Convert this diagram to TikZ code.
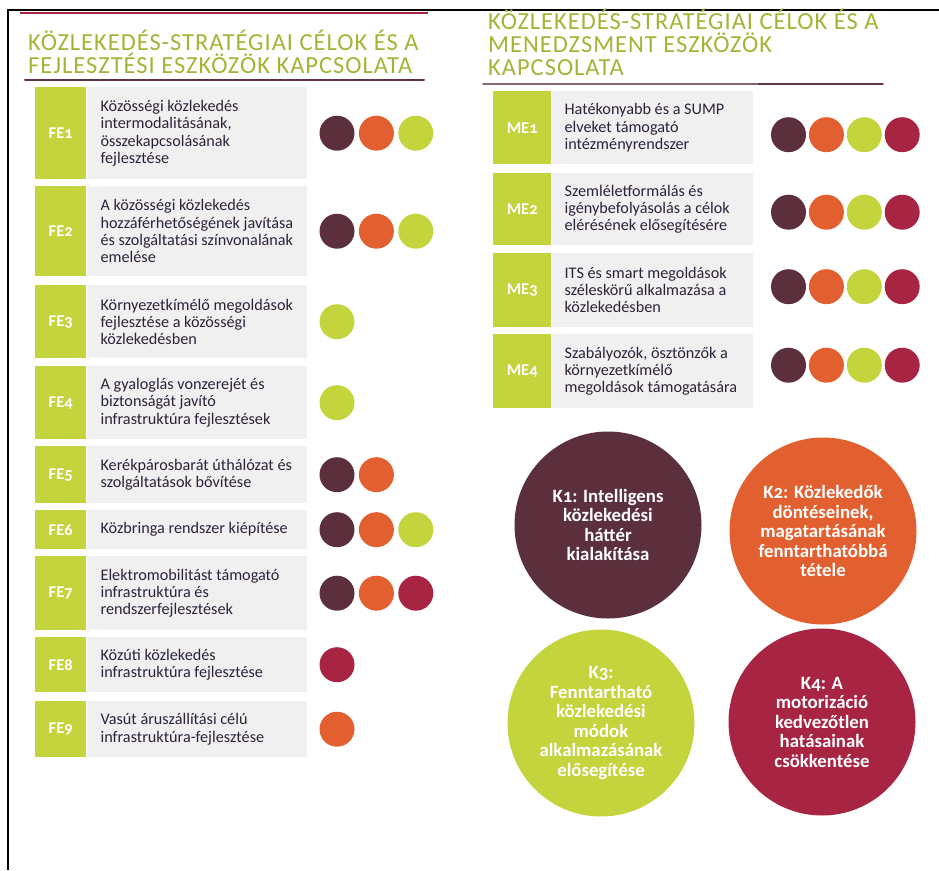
\documentclass[tikz,border=0pt]{standalone}
\usepackage{fontspec}
\setmainfont{Carlito}[Numbers=OldStyle]
\newfontfamily\headfont{Carlito}[LetterSpace=4]
\usepackage{tikz}
\usetikzlibrary{positioning}

\definecolor{kdark}{HTML}{5C2F3D}
\definecolor{korange}{HTML}{E2602F}
\definecolor{klime}{HTML}{C3D43D}
\definecolor{kred}{HTML}{A82443}
\definecolor{rowgrey}{HTML}{F0F0F0}
\definecolor{rowtext}{HTML}{2E2238}
\definecolor{headgreen}{HTML}{A5B336}
\definecolor{rulemaroon}{HTML}{5E3444}

\begin{document}
\begin{tikzpicture}[
    x=1pt, y=-1pt,
    heading/.style={
        anchor=base west,
        inner sep=0pt,
        text width=430pt,
        align=flush left,
        text=headgreen,
        font=\headfont\fontsize{24.5}{23}\selectfont
    },
    tagbox/.style={
        fill=klime,
        text=white,
        inner sep=0pt,
        anchor=north west,
        font=\fontsize{16.5}{18}\selectfont\bfseries
    },
    rowbox/.style={
        fill=rowgrey,
        text=rowtext,
        inner sep=0pt,
        align=flush left,
        font=\fontsize{16.2}{17.2}\selectfont
    },
    fetag/.style={tagbox, minimum width=51pt},
    metag/.style={tagbox, minimum width=58pt},
    fetext/.style={rowbox, text width=220pt, execute at begin node={\leftskip=14pt}},
    metext/.style={rowbox, text width=201pt, execute at begin node={\leftskip=13pt}},
    dot/.style={
        circle,
        minimum size=35pt,
        inner sep=0pt
    },
    goal/.style={
        circle,
        minimum size=187pt,
        inner sep=0pt,
        align=flush center,
        text=white,
        font=\fontsize{18.8}{19.5}\selectfont\bfseries
    }
]
\useasboundingbox (0,0) rectangle (939,870);

% Frame and rules
\draw [line width=2pt] (7.5,870) -- (7.5,9.5) -- (939,9.5);
\draw [kred, line width=2.5pt] (20,13) -- (428,13);
\draw [rulemaroon, line width=2pt, line cap=round] (25,80) -- (424,80);
\draw [rulemaroon!75!white, line width=1.8pt, line cap=round] (483,84) -- (883,84);
\draw [rulemaroon, line width=2.2pt] (758,84) -- (883,84);

% Headings
\node (fehead) [heading] at (28,50.5) {KÖZLEKEDÉS-STRATÉGIAI CÉLOK ÉS A\\FEJLESZTÉSI ESZKÖZÖK KAPCSOLATA};
\node (mehead) [heading] at (488,29.5) {KÖZLEKEDÉS-STRATÉGIAI CÉLOK ÉS A\\MENEDZSMENT ESZKÖZÖK\\KAPCSOLATA};

% Development tools
\node (fe1) [fetag, minimum height=92pt] at (35,87) {FE1};
\node (fe1txt) [fetext, minimum height=92pt, right=0pt of fe1] {Közösségi közlekedés\\intermodalitásának,\\összekapcsolásának\\fejlesztése};
\node (fe1a) [dot, fill=kdark, right=12.5pt of fe1txt] {};
\node (fe1b) [dot, fill=korange, right=4pt of fe1a] {};
\node (fe1c) [dot, fill=klime, right=4pt of fe1b] {};

\node (fe2) [fetag, minimum height=90pt] at (35,186) {FE2};
\node (fe2txt) [fetext, minimum height=90pt, right=0pt of fe2] {A közösségi közlekedés\\hozzáférhetőségének javítása\\és szolgáltatási színvonalának\\emelése};
\node (fe2a) [dot, fill=kdark, right=12.5pt of fe2txt] {};
\node (fe2b) [dot, fill=korange, right=4pt of fe2a] {};
\node (fe2c) [dot, fill=klime, right=4pt of fe2b] {};

\node (fe3) [fetag, minimum height=73pt] at (35,285) {FE3};
\node (fe3txt) [fetext, minimum height=73pt, right=0pt of fe3] {Környezetkímélő megoldások\\fejlesztése a közösségi\\közlekedésben};
\node (fe3a) [dot, fill=klime, right=12.5pt of fe3txt] {};

\node (fe4) [fetag, minimum height=73pt] at (35,366) {FE4};
\node (fe4txt) [fetext, minimum height=73pt, right=0pt of fe4] {A gyaloglás vonzerejét és\\biztonságát javító\\infrastruktúra fejlesztések};
\node (fe4a) [dot, fill=klime, right=12.5pt of fe4txt] {};

\node (fe5) [fetag, minimum height=57pt] at (35,446) {FE5};
\node (fe5txt) [fetext, minimum height=57pt, right=0pt of fe5] {Kerékpárosbarát úthálózat és\\szolgáltatások bővítése};
\node (fe5a) [dot, fill=kdark, right=12.5pt of fe5txt] {};
\node (fe5b) [dot, fill=korange, right=4pt of fe5a] {};

\node (fe6) [fetag, minimum height=39pt] at (35,510) {FE6};
\node (fe6txt) [fetext, minimum height=39pt, right=0pt of fe6] {Közbringa rendszer kiépítése};
\node (fe6a) [dot, fill=kdark, right=12.5pt of fe6txt] {};
\node (fe6b) [dot, fill=korange, right=4pt of fe6a] {};
\node (fe6c) [dot, fill=klime, right=4pt of fe6b] {};

\node (fe7) [fetag, minimum height=74pt] at (35,556) {FE7};
\node (fe7txt) [fetext, minimum height=74pt, right=0pt of fe7] {Elektromobilitást támogató\\infrastruktúra és\\rendszerfejlesztések};
\node (fe7a) [dot, fill=kdark, right=12.5pt of fe7txt] {};
\node (fe7b) [dot, fill=korange, right=4pt of fe7a] {};
\node (fe7c) [dot, fill=kred, right=4pt of fe7b] {};

\node (fe8) [fetag, minimum height=55pt] at (35,637) {FE8};
\node (fe8txt) [fetext, minimum height=55pt, right=0pt of fe8] {Közúti közlekedés\\infrastruktúra fejlesztése};
\node (fe8a) [dot, fill=kred, right=12.5pt of fe8txt] {};

\node (fe9) [fetag, minimum height=56pt] at (35,701) {FE9};
\node (fe9txt) [fetext, minimum height=56pt, right=0pt of fe9] {Vasút áruszállítási célú\\infrastruktúra-fejlesztése};
\node (fe9a) [dot, fill=korange, right=12.5pt of fe9txt] {};

% Management tools
\node (me1) [metag, minimum height=73pt] at (493,91) {ME1};
\node (me1txt) [metext, minimum height=73pt, right=0pt of me1] {Hatékonyabb és a SUMP\\elveket támogató\\intézményrendszer};
\node (me1a) [dot, fill=kdark, right=18pt of me1txt, yshift=-7pt] {};
\node (me1b) [dot, fill=korange, right=2.5pt of me1a] {};
\node (me1c) [dot, fill=klime, right=2.5pt of me1b] {};
\node (me1d) [dot, fill=kred, right=2.5pt of me1c] {};

\node (me2) [metag, minimum height=72pt] at (493,173) {ME2};
\node (me2txt) [metext, minimum height=72pt, right=0pt of me2] {Szemléletformálás és\\igénybefolyásolás a célok\\elérésének elősegítésére};
\node (me2a) [dot, fill=kdark, right=18pt of me2txt, yshift=-3pt] {};
\node (me2b) [dot, fill=korange, right=2.5pt of me2a] {};
\node (me2c) [dot, fill=klime, right=2.5pt of me2b] {};
\node (me2d) [dot, fill=kred, right=2.5pt of me2c] {};

\node (me3) [metag, minimum height=74pt] at (493,253) {ME3};
\node (me3txt) [metext, minimum height=74pt, right=0pt of me3] {ITS és smart megoldások\\széleskörű alkalmazása a\\közlekedésben};
\node (me3a) [dot, fill=kdark, right=18pt of me3txt, yshift=3.5pt] {};
\node (me3b) [dot, fill=korange, right=2.5pt of me3a] {};
\node (me3c) [dot, fill=klime, right=2.5pt of me3b] {};
\node (me3d) [dot, fill=kred, right=2.5pt of me3c] {};

\node (me4) [metag, minimum height=74pt] at (493,334) {ME4};
\node (me4txt) [metext, minimum height=74pt, right=0pt of me4] {Szabályozók, ösztönzők a\\környezetkímélő\\megoldások támogatására};
\node (me4a) [dot, fill=kdark, right=18pt of me4txt, yshift=6pt] {};
\node (me4b) [dot, fill=korange, right=2.5pt of me4a] {};
\node (me4c) [dot, fill=klime, right=2.5pt of me4b] {};
\node (me4d) [dot, fill=kred, right=2.5pt of me4c] {};

% Goals
\node (k1) [goal, fill=kdark] at (608,525) {K1: Intelligens\\közlekedési\\háttér\\kialakítása};
\node (k2) [goal, fill=korange] at (823,531) {K2: Közlekedők\\döntéseinek,\\magatartásának\\fenntarthatóbbá\\tétele};
\node (k3) [goal, fill=klime] at (601,723) {K3:\\Fenntartható\\közlekedési\\módok\\alkalmazásának\\elősegítése};
\node (k4) [goal, fill=kred] at (822,722) {K4: A\\motorizáció\\kedvezőtlen\\hatásainak\\csökkentése};

\end{tikzpicture}
\end{document}
